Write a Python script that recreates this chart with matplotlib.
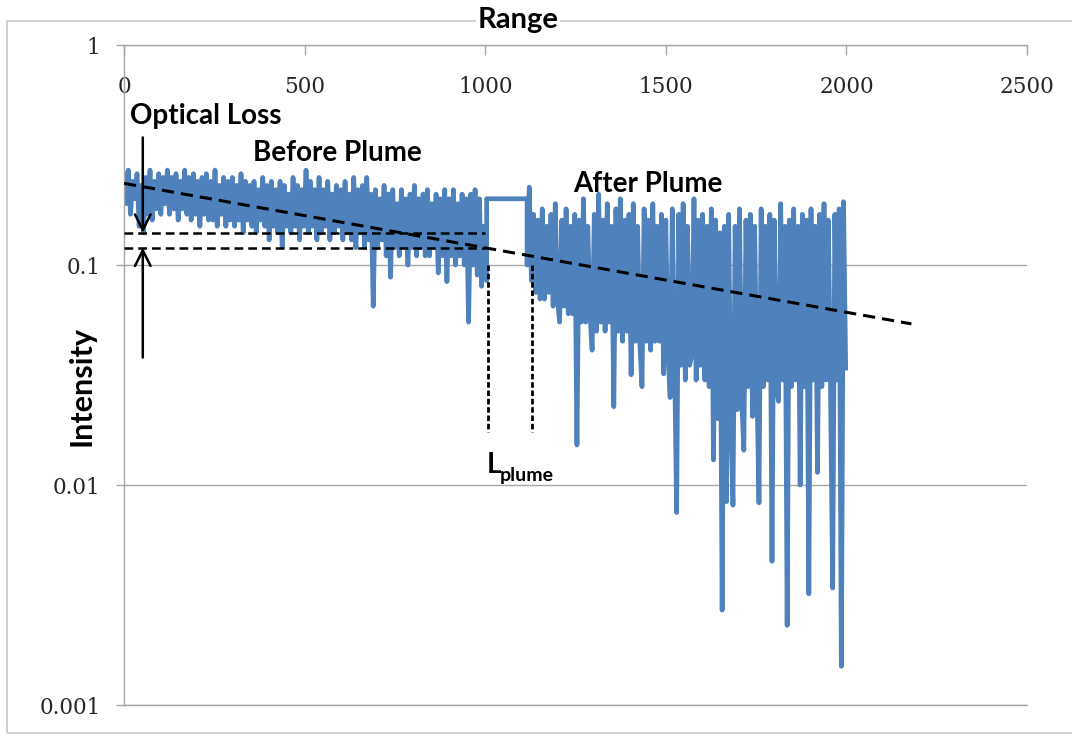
import matplotlib.pyplot as plt
import numpy as np
from matplotlib.patches import Rectangle
from matplotlib.ticker import FixedLocator, NullLocator

before_range = np.arange(0, 1000, 6)
before_intensity = [
    0.26, 0.19, 0.27, 0.17, 0.24, 0.20, 0.26, 0.15, 0.23, 0.14,
    0.25, 0.17, 0.27, 0.16, 0.24, 0.18, 0.26, 0.17, 0.25, 0.19,
    0.27, 0.17, 0.25, 0.18, 0.26, 0.16, 0.24, 0.18, 0.27, 0.17,
    0.25, 0.16, 0.26, 0.17, 0.24, 0.15, 0.25, 0.17, 0.26, 0.16,
    0.24, 0.16, 0.27, 0.15, 0.23, 0.17, 0.25, 0.15, 0.24, 0.16,
    0.25, 0.15, 0.23, 0.16, 0.26, 0.14, 0.24, 0.16, 0.23, 0.15,
    0.24, 0.14, 0.22, 0.16, 0.25, 0.15, 0.23, 0.13, 0.24, 0.15,
    0.22, 0.14, 0.24, 0.12, 0.23, 0.15, 0.21, 0.14, 0.25, 0.15,
    0.23, 0.13, 0.22, 0.15, 0.27, 0.14, 0.24, 0.15, 0.22, 0.13,
    0.25, 0.14, 0.22, 0.15, 0.24, 0.13, 0.21, 0.14, 0.23, 0.15,
    0.22, 0.13, 0.24, 0.14, 0.21, 0.13, 0.25, 0.12, 0.22, 0.14,
    0.23, 0.12, 0.25, 0.13, 0.21, 0.065, 0.22, 0.12, 0.20, 0.13,
    0.23, 0.11, 0.21, 0.088, 0.22, 0.12, 0.19, 0.11, 0.22, 0.12,
    0.20, 0.10, 0.21, 0.12, 0.23, 0.11, 0.20, 0.12, 0.21, 0.11,
    0.22, 0.11, 0.19, 0.12, 0.21, 0.092, 0.20, 0.11, 0.22, 0.084,
    0.20, 0.11, 0.22, 0.10, 0.19, 0.11, 0.21, 0.10, 0.20, 0.055,
    0.21, 0.10, 0.22, 0.09, 0.20, 0.08, 0.15,
]
plume_range = [1004, 1004, 1116, 1116]
plume_intensity = [0.085, 0.2, 0.2, 0.1]
after_range = np.arange(1122, 2001, 6)
after_intensity = [
    0.226, 0.085, 0.17, 0.075, 0.16, 0.07, 0.18, 0.07, 0.15, 0.075,
    0.17, 0.065, 0.19, 0.07, 0.055, 0.16, 0.065, 0.18, 0.06, 0.15,
    0.06, 0.17, 0.0152, 0.16, 0.055, 0.20, 0.055, 0.15, 0.06, 0.041,
    0.17, 0.05, 0.21, 0.055, 0.16, 0.05, 0.19, 0.055, 0.15, 0.0227,
    0.18, 0.05, 0.20, 0.045, 0.16, 0.05, 0.17, 0.0317, 0.19, 0.045,
    0.15, 0.045, 0.028, 0.18, 0.045, 0.16, 0.041, 0.19, 0.045, 0.15,
    0.045, 0.17, 0.032, 0.16, 0.04, 0.025, 0.18, 0.04, 0.0075, 0.17,
    0.035, 0.19, 0.03, 0.15, 0.035, 0.039, 0.20, 0.03, 0.16, 0.035,
    0.17, 0.03, 0.15, 0.028, 0.18, 0.013, 0.16, 0.02, 0.14, 0.0027,
    0.15, 0.0084, 0.17, 0.02, 0.0081, 0.15, 0.022, 0.18, 0.025, 0.0144,
    0.16, 0.028, 0.17, 0.0205, 0.15, 0.03, 0.0083, 0.18, 0.028, 0.15,
    0.03, 0.17, 0.0045, 0.16, 0.028, 0.024, 0.19, 0.03, 0.15, 0.0023,
    0.16, 0.028, 0.18, 0.03, 0.15, 0.01, 0.17, 0.028, 0.16, 0.0032,
    0.18, 0.03, 0.15, 0.0114, 0.17, 0.028, 0.19, 0.03, 0.16, 0.028,
    0.0034, 0.17, 0.03, 0.18, 0.0015, 0.194, 0.034,
]

# annotation geometry
trend_range = [0, 2180]
trend_intensity = [0.235, 0.054]
loss_levels = [0.14, 0.12]
loss_extent = [0, 1000]
lplume_range = [1007, 1129]
lplume_span = [0.1, 0.0175]
arrow_range = 52
arrow_down = [0.38, 0.14]
arrow_up = [0.038, 0.12]

x_ticks = [0, 500, 1000, 1500, 2000, 2500]
y_ticks = [0.001, 0.01, 0.1, 1]
y_tick_labels = ['0.001', '0.01', '0.1', '1']

blue = '#4F81BD'
grey = '#A6A6A6'
sans = ['Lato', 'DejaVu Sans']

range_vals = np.concatenate([before_range, plume_range, after_range])
intensity = np.concatenate([before_intensity, plume_intensity, after_intensity])

fig = plt.figure(figsize=(10.72, 7.36), dpi=100)
ax = fig.add_axes([124 / 1072, 1 - 705 / 736, 903 / 1072, 660 / 736])

ax.plot(range_vals, intensity, color=blue, lw=3.4, zorder=2)

# trend line, optical-loss levels and plume edges
ax.plot(trend_range, trend_intensity, color='black', lw=2.2, ls=(0, (4, 2.3)), zorder=3)
for lev in loss_levels:
    ax.plot(loss_extent, [lev, lev], color='black', lw=1.8, ls=(0, (3.5, 2)), zorder=3)
for xr in lplume_range:
    ax.plot([xr, xr], lplume_span, color='black', lw=2.0, ls=(0, (2, 1)), zorder=3)

ax.annotate('', xy=(arrow_range, arrow_down[1]), xytext=(arrow_range, arrow_down[0]),
            arrowprops=dict(arrowstyle='->', lw=1.8, color='black', mutation_scale=28,
                            shrinkA=0, shrinkB=0), zorder=4)
ax.annotate('', xy=(arrow_range, arrow_up[1]), xytext=(arrow_range, arrow_up[0]),
            arrowprops=dict(arrowstyle='->', lw=1.8, color='black', mutation_scale=28,
                            shrinkA=0, shrinkB=0), zorder=4)

ax.set_yscale('log')
ax.set_xlim(0, 2500)
ax.set_ylim(0.001, 1)

ax.xaxis.tick_top()
ax.xaxis.set_major_locator(FixedLocator(x_ticks))
ax.tick_params(axis='x', direction='in', length=7, width=1, color=grey, pad=-38,
               labelsize=15.5)
ax.yaxis.set_major_locator(FixedLocator(y_ticks))
ax.yaxis.set_minor_locator(NullLocator())
ax.set_yticklabels(y_tick_labels)
ax.tick_params(axis='y', direction='out', length=6, width=1, color=grey, pad=11,
               labelsize=15.5)
for lab in ax.get_xticklabels() + ax.get_yticklabels():
    lab.set_family('DejaVu Serif')
    lab.set_color('#262626')

ax.yaxis.grid(True, color=grey, lw=1)
ax.set_axisbelow(True)
ax.spines['right'].set_visible(False)
for side in ['left', 'top', 'bottom']:
    ax.spines[side].set_color(grey)
    ax.spines[side].set_linewidth(1)

# text labels
ax.text(16, 0.476, 'Optical Loss', family=sans, fontweight='bold', fontsize=20, va='center')
ax.text(357, 0.323, 'Before Plume', family=sans, fontweight='bold', fontsize=20, va='center')
ax.text(1243, 0.233, 'After Plume', family=sans, fontweight='bold', fontsize=20, va='center')
ax.text(1003, 0.0123, 'L', family=sans, fontweight='bold', fontsize=20, va='center')
ax.text(1040, 0.0111, 'plume', family=sans, fontweight='bold', fontsize=14, va='center')

fig.patches.append(Rectangle((7 / 1072, 3 / 736), 1.1, 1 - 24 / 736,
                             transform=fig.transFigure, fill=False,
                             edgecolor='#C8C8C8', lw=1.2))
fig.text(518 / 1072, 1 - 20 / 736, 'Range', family=sans, fontweight='bold', fontsize=21,
         ha='center', va='center',
         bbox=dict(facecolor='white', edgecolor='none', pad=1))
fig.text(82 / 1072, 1 - 386 / 736, 'Intensity', family=sans, fontweight='bold', fontsize=22,
         ha='center', va='center', rotation=90)

fig.savefig('out.png', dpi=100)
